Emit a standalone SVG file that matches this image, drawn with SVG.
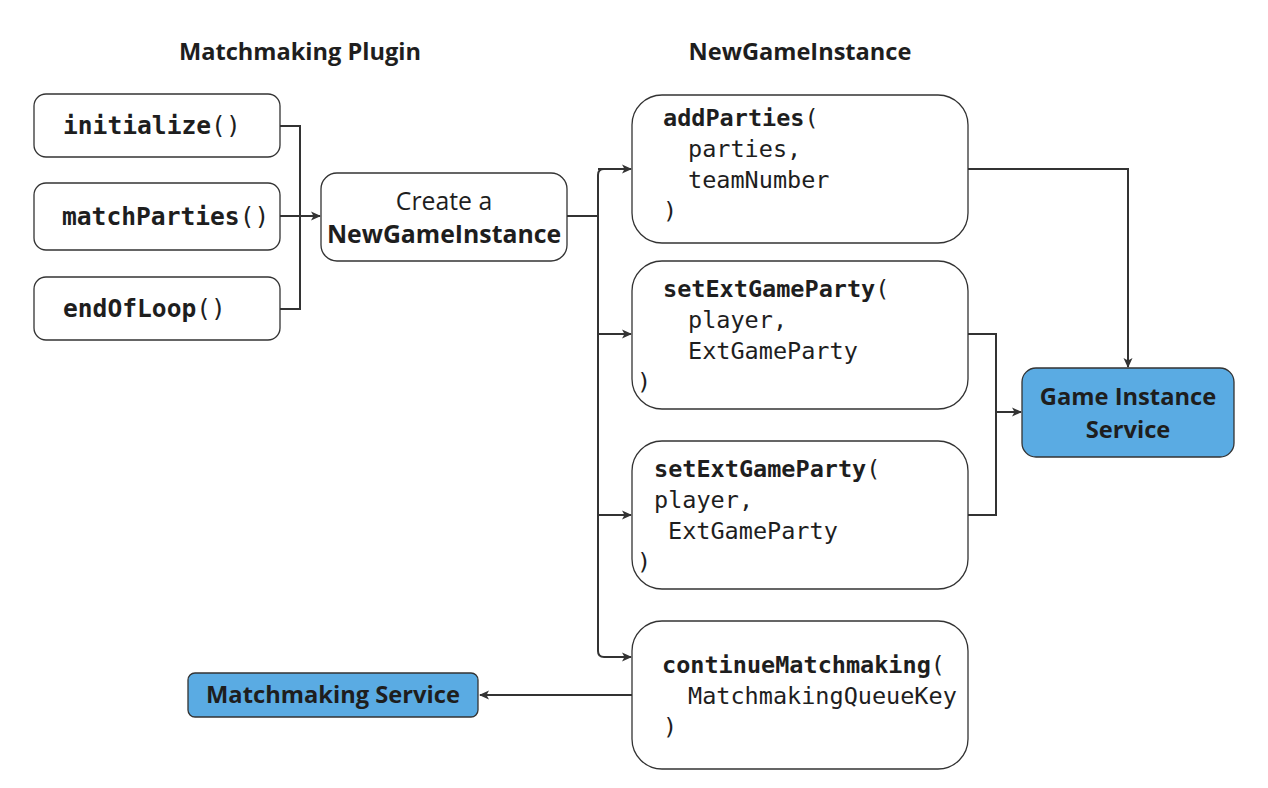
<svg xmlns="http://www.w3.org/2000/svg" width="1268" height="788" viewBox="0 0 1268 788">
<defs>
<marker id="ah" viewBox="0 0 10 10" refX="9" refY="5" markerWidth="10" markerHeight="10" markerUnits="userSpaceOnUse" orient="auto">
<path d="M0,0.5 L10,5 L0,9.5 L2.5,5 Z" fill="#333"/>
</marker>
<style>
.box{fill:#fff;stroke:#333;stroke-width:1.3}
.svc{fill:#5aabe3;stroke:#333;stroke-width:1.3}
.title{font-family:"Open Sans","Noto Sans",sans-serif;font-weight:bold;font-size:23.6px;fill:#1e1e1e;text-anchor:middle}
.sans{font-family:"Open Sans","Noto Sans",sans-serif;font-size:23.7px;fill:#1e1e1e;text-anchor:middle}
.big{font-size:24.8px}
.mono{font-family:"DejaVu Sans Mono","Liberation Mono",monospace;font-size:23.5px;fill:#1e1e1e}
.lm{font-size:24.6px}
.b{font-weight:bold}
.ln{fill:none;stroke:#333;stroke-width:2}
</style>
</defs>
<rect width="1268" height="788" fill="#fff"/>
<text class="title" x="300" y="60">Matchmaking Plugin</text>
<text class="title" x="800" y="60">NewGameInstance</text>

<g id="connectors">
<path class="ln" d="M280,126 H300 V309 H280"/>
<path class="ln" d="M280,216 H320" marker-end="url(#ah)"/>
<path class="ln" d="M567,216 H598"/>
<path class="ln" d="M631,169 H604 Q598,169 598,175 V651 Q598,657 604,657 H631" marker-end="url(#ah)"/>
<path class="ln" d="M598,169 H631" marker-end="url(#ah)"/>
<path class="ln" d="M598,334 H631" marker-end="url(#ah)"/>
<path class="ln" d="M598,515 H631" marker-end="url(#ah)"/>
<path class="ln" d="M968,169 H1128 V367" marker-end="url(#ah)"/>
<path class="ln" d="M968,334 H996 V515 H968"/>
<path class="ln" d="M996,412 H1021" marker-end="url(#ah)"/>
<path class="ln" d="M632,695 H480" marker-end="url(#ah)"/>
</g>

<g id="initialize">
<rect class="box" x="34" y="94" width="246" height="63" rx="12"/>
<text class="mono lm" x="63" y="134"><tspan class="b">initialize</tspan>()</text>
</g>
<g id="matchParties">
<rect class="box" x="34" y="183" width="246" height="67" rx="12"/>
<text class="mono lm" x="62" y="225"><tspan class="b">matchParties</tspan>()</text>
</g>
<g id="endOfLoop">
<rect class="box" x="34" y="277" width="246" height="63" rx="12"/>
<text class="mono lm" x="63" y="317"><tspan class="b">endOfLoop</tspan>()</text>
</g>
<g id="create">
<rect class="box" x="321" y="173" width="246" height="88" rx="16"/>
<text class="sans big" x="444" y="210">Create a</text>
<text class="sans big b" x="444" y="243">NewGameInstance</text>
</g>
<g id="addParties">
<rect class="box" x="632" y="95" width="336" height="148" rx="30"/>
<text class="mono" x="663" y="126"><tspan class="b">addParties</tspan>(</text>
<text class="mono" x="688" y="157">parties,</text>
<text class="mono" x="688" y="188">teamNumber</text>
<text class="mono" x="663" y="219">)</text>
</g>
<g id="setExtGameParty1">
<rect class="box" x="632" y="261" width="336" height="148" rx="30"/>
<text class="mono" x="663" y="297"><tspan class="b">setExtGameParty</tspan>(</text>
<text class="mono" x="688" y="328">player,</text>
<text class="mono" x="688" y="359">ExtGameParty</text>
<text class="mono" x="637" y="390">)</text>
</g>
<g id="setExtGameParty2">
<rect class="box" x="632" y="441" width="336" height="148" rx="30"/>
<text class="mono" x="654" y="477"><tspan class="b">setExtGameParty</tspan>(</text>
<text class="mono" x="654" y="508">player,</text>
<text class="mono" x="668" y="539">ExtGameParty</text>
<text class="mono" x="637" y="570">)</text>
</g>
<g id="continueMatchmaking">
<rect class="box" x="632" y="621" width="336" height="148" rx="30"/>
<text class="mono" x="662" y="673"><tspan class="b">continueMatchmaking</tspan>(</text>
<text class="mono" x="688" y="704">MatchmakingQueueKey</text>
<text class="mono" x="663" y="735">)</text>
</g>
<g id="gameInstanceService">
<rect class="svc" x="1022" y="368" width="212" height="89" rx="14"/>
<text class="sans b" x="1128" y="405">Game Instance</text>
<text class="sans b" x="1128" y="438">Service</text>
</g>
<g id="matchmakingService">
<rect class="svc" x="188" y="673" width="290" height="44" rx="7"/>
<text class="sans b" x="333" y="703">Matchmaking Service</text>
</g>
</svg>
